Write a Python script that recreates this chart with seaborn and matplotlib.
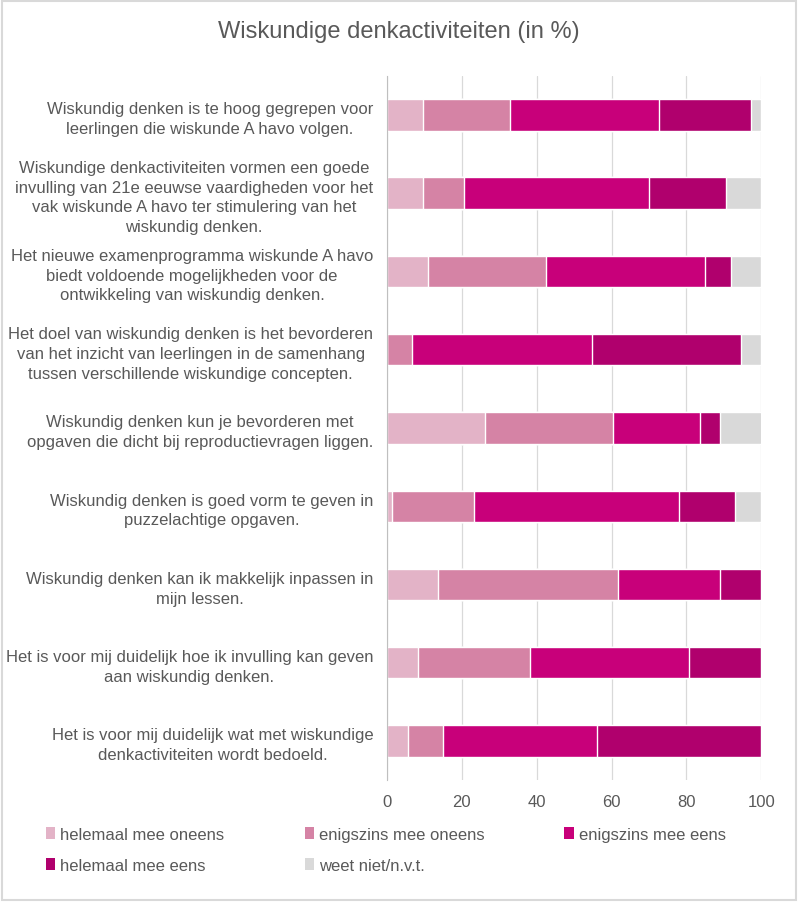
import numpy as np
import pandas as pd
import seaborn as sns
import matplotlib.pyplot as plt
from matplotlib.patches import Patch, Rectangle

stellingen = [
    "Wiskundig denken is te hoog gegrepen voor\nleerlingen die wiskunde A havo volgen.",
    "Wiskundige denkactiviteiten vormen een goede\ninvulling van 21e eeuwse vaardigheden voor het\nvak wiskunde A havo ter stimulering van het\nwiskundig denken.",
    "Het nieuwe examenprogramma wiskunde A havo\nbiedt voldoende mogelijkheden voor de\nontwikkeling van wiskundig denken.",
    "Het doel van wiskundig denken is het bevorderen\nvan het inzicht van leerlingen in de samenhang\ntussen verschillende wiskundige concepten.",
    "Wiskundig denken kun je bevorderen met\nopgaven die dicht bij reproductievragen liggen.",
    "Wiskundig denken is goed vorm te geven in\npuzzelachtige opgaven.",
    "Wiskundig denken kan ik makkelijk inpassen in\nmijn lessen.",
    "Het is voor mij duidelijk hoe ik invulling kan geven\naan wiskundig denken.",
    "Het is voor mij duidelijk wat met wiskundige\ndenkactiviteiten wordt bedoeld.",
]
antwoorden = ["helemaal mee oneens", "enigszins mee oneens", "enigszins mee eens",
              "helemaal mee eens", "weet niet/n.v.t."]

helemaal_oneens = [9.6, 9.6, 10.9, 0.0, 26.2, 1.2, 13.6, 8.2, 5.5]
enigszins_oneens = [23.2, 10.9, 31.5, 6.8, 34.1, 22.0, 48.1, 30.1, 9.4]
enigszins_eens = [39.8, 49.4, 42.6, 48.0, 23.4, 54.8, 27.3, 42.5, 41.1]
helemaal_eens = [24.6, 20.6, 6.8, 39.7, 5.3, 15.1, 11.0, 19.2, 44.0]
weet_niet = [2.8, 9.5, 8.2, 5.5, 11.1, 6.9, 0.0, 0.0, 0.0]

kleuren = ["#E3B3C7", "#D583A5", "#C8007A", "#B0006D", "#D9D9D9"]
grijs = "#595959"

sns.set_style("white")
plt.rcParams['font.family'] = ['Liberation Sans', 'DejaVu Sans']

df = pd.DataFrame({"stelling": stellingen})
reeksen = [helemaal_oneens, enigszins_oneens, enigszins_eens, helemaal_eens, weet_niet]
cum = np.cumsum(np.array(reeksen), axis=0)
for i, a in enumerate(antwoorden):
    df[a] = cum[i]

fig = plt.figure(figsize=(7.98, 9.03), dpi=100)
ax = fig.add_axes([0.485, 0.135, 0.469, 0.780])

# cumulatieve lagen van achter naar voor tekenen
for i in range(len(antwoorden) - 1, -1, -1):
    sns.barplot(data=df, x=antwoorden[i], y="stelling", color=kleuren[i],
                width=0.4, saturation=1, errorbar=None, orient="h", ax=ax)

ax.set_xlim(0, 100)
ax.set_xticks(range(0, 101, 20))
ax.set_xlabel("")
ax.set_ylabel("")
ax.grid(axis="x", color="#D9D9D9", lw=0.9)
ax.set_axisbelow(True)
for s in ["top", "right", "bottom"]:
    ax.spines[s].set_visible(False)
ax.spines["left"].set_color("#BFBFBF")
ax.tick_params(axis="y", length=0, pad=10, labelsize=12, labelcolor=grijs)
ax.tick_params(axis="x", length=0, pad=10, labelsize=12, labelcolor=grijs)
for lbl in ax.get_yticklabels():
    lbl.set_multialignment("center")
    lbl.set_linespacing(1.38)

fig.text(0.5, 1 - 32 / 903, "Wiskundige denkactiviteiten (in %)", ha="center", va="center",
         fontsize=17, color=grijs)

# volgorde zodat de legenda per rij gevuld wordt
volgorde = [0, 3, 1, 4, 2]
handles = [Patch(facecolor=kleuren[j], edgecolor="none") for j in volgorde]
labels = [antwoorden[j] for j in volgorde]
fig.legend(handles, labels, ncol=3, loc="upper left", bbox_to_anchor=(0.058, 1 - 828 / 903),
           frameon=False, fontsize=12, labelcolor=grijs, handlelength=0.55, handleheight=0.75,
           handletextpad=0.3, columnspacing=4.8, borderaxespad=0, borderpad=0, labelspacing=0.95)

fig.patches.append(Rectangle((0.002, 0.002), 0.996, 0.996, transform=fig.transFigure,
                             fill=False, edgecolor="#D9D9D9", lw=1.5))

fig.savefig("out.png", dpi=100)
